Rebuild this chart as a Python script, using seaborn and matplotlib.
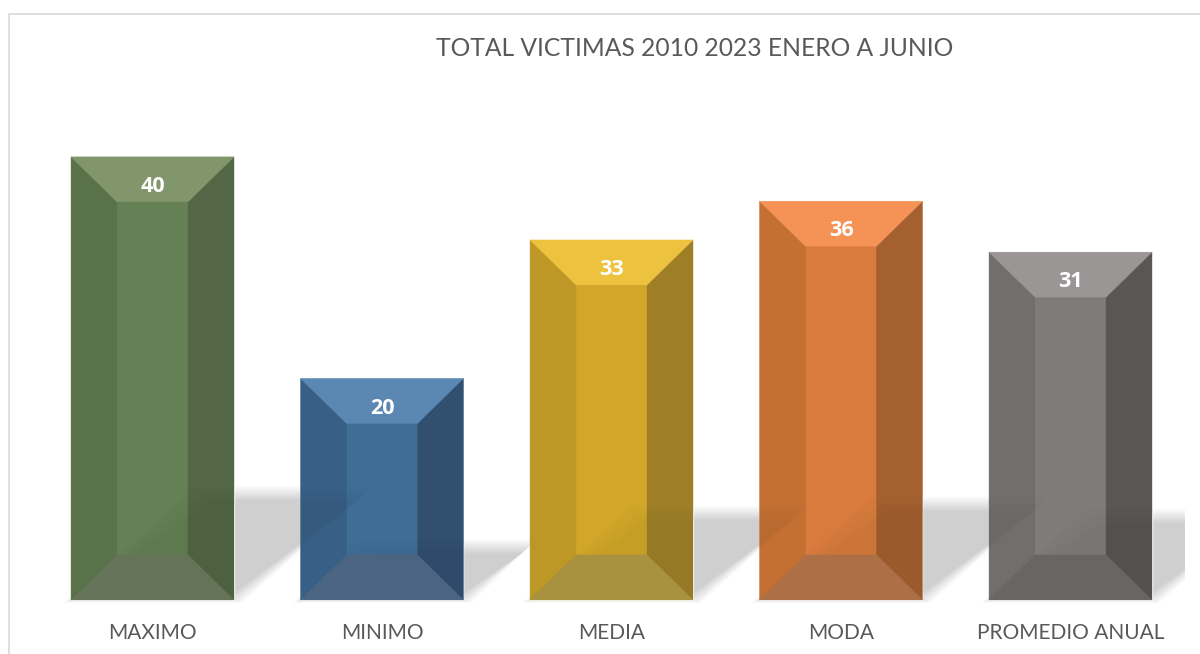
import matplotlib
matplotlib.use("Agg")
import matplotlib.pyplot as plt
from matplotlib.lines import Line2D
from matplotlib.patches import Polygon
import pandas as pd
import seaborn as sns

# Chart values
categories = ["MAXIMO", "MINIMO", "MEDIA", "MODA", "PROMEDIO ANUAL"]
values = [40, 20, 32.5, 36, 31.4]
value_labels = ["40", "20", "33", "36", "31"]
title = "TOTAL VICTIMAS 2010 2023 ENERO A JUNIO"

# Bevel shades, one per bar
face_colors = ["#658054", "#3f6d96", "#d2a729", "#d87b3c", "#7e7b7a"]
left_colors = ["#5a7249", "#386087", "#be9826", "#c37032", "#726e6d"]
right_colors = ["#536645", "#314f6f", "#9e7f28", "#a4602f", "#5a5655"]
top_colors = ["#81966a", "#5b88b3", "#edc23f", "#f59356", "#9a9695"]
bottom_colors = ["#657358", "#4a6482", "#a8913f", "#ad6f45", "#696564"]

W, H = 1200, 654
AX_LEFT, AX_RIGHT = 37.75, 1185.25
PX_PER_UNIT = 11.08
PX_PER_CAT = (AX_RIGHT - AX_LEFT) / 5
BEVEL_X = 0.282      # share of the bar width
BEVEL_Y = 4.06       # in data units
SHADOW_H = 0.24      # share of the bar height
SHADOW_SLANT = 1.24  # horizontal px per vertical px
BLUR_LAYERS = 12


def shadow_layers(x0, x1, height):
    # stacked polygons stand in for a soft blur
    h = height * SHADOW_H
    dx = h * PX_PER_UNIT * SHADOW_SLANT / PX_PER_CAT
    layers = []
    for i in range(BLUR_LAYERS):
        grow = (BLUR_LAYERS / 2 - i) * 1.3
        gx = grow / PX_PER_CAT
        gy = grow / PX_PER_UNIT
        layers.append([(x0 - gx, -gy * 0.4), (x1 + gx, -gy * 0.4),
                       (x1 + dx + gx, h + gy), (x0 + dx - gx, h + gy)])
    return layers


def layer_alpha(total_alpha):
    return 1 - (1 - total_alpha) ** (1 / BLUR_LAYERS)


def add_bevels(ax, bar, i):
    x0 = bar.get_x()
    w = bar.get_width()
    x1 = x0 + w
    top = bar.get_height()
    ix0 = x0 + w * BEVEL_X
    ix1 = x1 - w * BEVEL_X
    it = top - BEVEL_Y
    ib = BEVEL_Y
    sides = [
        ([(x0, 0), (ix0, ib), (ix0, it), (x0, top)], left_colors[i], 3),
        ([(x1, 0), (ix1, ib), (ix1, it), (x1, top)], right_colors[i], 3),
        ([(x0, top), (x1, top), (ix1, it), (ix0, it)], top_colors[i], 5),
        ([(x0, 0), (x1, 0), (ix1, ib), (ix0, ib)], bottom_colors[i], 5),
    ]
    for pts, color, z in sides:
        ax.add_patch(Polygon(pts, closed=True, facecolor=color, edgecolor=color,
                             linewidth=0.3, zorder=z))


sns.set_theme(style="white")
plt.rcParams["font.family"] = ["Lato", "DejaVu Sans"]

fig = plt.figure(figsize=(W / 100, H / 100), dpi=100)
ax = fig.add_axes([AX_LEFT / W, 1 - 605.5 / H, (AX_RIGHT - AX_LEFT) / W, (605.5 - 101.5) / H])

df = pd.DataFrame({"categoria": categories, "valor": values})
sns.barplot(data=df, x="categoria", y="valor", hue="categoria", palette=face_colors,
            saturation=1, width=0.71, legend=False, ax=ax, zorder=2, errorbar=None)

ax.set_xlim(-0.5, 4.5)
ax.set_ylim(-0.5, 45)
ax.set_xlabel("")
ax.set_ylabel("")
ax.set_yticks([])
ax.tick_params(axis="x", length=0, pad=12.5, labelsize=15, labelcolor="#595959")
sns.despine(ax=ax, left=True, bottom=True)

bars = [c[0] for c in ax.containers]
for i, bar in enumerate(bars):
    x0, x1, h = bar.get_x(), bar.get_x() + bar.get_width(), bar.get_height()
    layers = shadow_layers(x0, x1, h)
    for pts in layers:
        # soft shadow on the white ground
        ax.add_patch(Polygon(pts, closed=True, facecolor="black", edgecolor="none",
                             alpha=layer_alpha(0.175), zorder=1))
    # the bars are slightly see-through, so it shows faintly on them too
    # only a few layers here, very low alpha gets rounded too dark by the renderer
    for pts in layers[1::5]:
        for other in bars:
            p = Polygon(pts, closed=True, facecolor="black", edgecolor="none",
                        alpha=0.014, zorder=4)
            ax.add_patch(p)
            p.set_clip_path(other)
    add_bevels(ax, bar, i)
    ax.bar_label(ax.containers[i], labels=[value_labels[i]], label_type="edge", padding=-29,
                 color="white", fontsize=15.5, fontweight="bold", family="Open Sans", zorder=6)

# Chart frame: only the top and left edges are in view
fig.add_artist(Line2D([8.5 / W, 8.5 / W], [0, 1 - 13.5 / H], color="#d9d9d9", linewidth=1.2))
fig.add_artist(Line2D([8.5 / W, 1], [1 - 13.5 / H, 1 - 13.5 / H], color="#d9d9d9", linewidth=1.2))

fig.text(695 / W, 1 - 48.5 / H, title, ha="center", va="center", fontsize=17.7, color="#595959")

fig.savefig("out.png", dpi=100)
